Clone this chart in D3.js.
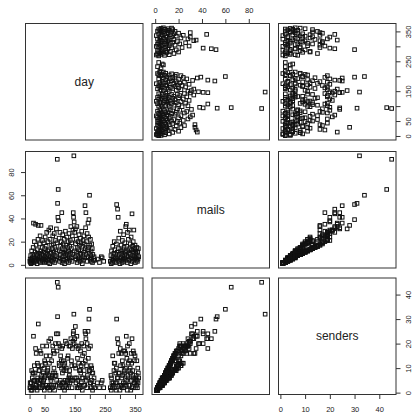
<!DOCTYPE html>
<html>
<head>
<meta charset="utf-8">
<script src="https://cdn.jsdelivr.net/npm/d3@7"></script>
<style>
  html, body { margin: 0; padding: 0; background: #fff; }
  svg { display: block; }
</style>
</head>
<body>
<svg width="413" height="413"></svg>
<script>
// ----- Data (one entry per day with mail) -----
const day = [
  1, 2, 3, 4, 5, 6, 7, 8, 9, 10,
  11, 12, 13, 14, 15, 16, 17, 18, 19, 20,
  21, 22, 23, 24, 25, 26, 27, 28, 29, 30,
  31, 32, 33, 34, 35, 36, 37, 38, 39, 40,
  41, 42, 43, 44, 45, 46, 47, 48, 49, 50,
  51, 52, 53, 54, 55, 56, 57, 58, 59, 60,
  61, 62, 63, 64, 65, 66, 67, 68, 69, 70,
  71, 72, 73, 74, 75, 76, 77, 78, 79, 80,
  81, 82, 83, 84, 85, 86, 87, 88, 89, 90,
  91, 92, 93, 94, 95, 96, 97, 98, 99, 100,
  101, 102, 103, 104, 105, 106, 107, 108, 109, 110,
  111, 112, 113, 114, 115, 116, 117, 118, 119, 120,
  121, 122, 123, 124, 125, 126, 127, 128, 129, 130,
  131, 132, 133, 134, 135, 136, 137, 138, 139, 140,
  141, 142, 143, 144, 145, 146, 147, 148, 149, 150,
  151, 152, 153, 154, 155, 156, 157, 158, 159, 160,
  161, 162, 163, 164, 165, 166, 167, 168, 169, 170,
  171, 172, 173, 174, 175, 176, 177, 178, 179, 180,
  181, 182, 183, 184, 185, 186, 187, 188, 189, 190,
  191, 192, 193, 194, 195, 196, 197, 198, 199, 200,
  201, 202, 203, 204, 205, 206, 207, 208, 209, 210,
  212, 214, 216, 225, 232, 238, 241, 246,
  268, 270, 271, 272, 273, 275, 276, 277, 278, 280,
  281, 282, 283, 285, 286, 287, 288, 289, 290, 291,
  292, 293, 294, 295, 296, 297, 298, 300, 301, 302,
  303, 304, 305, 306, 307, 308, 309, 310, 311, 312,
  313, 314, 315, 316, 317, 318, 319, 320, 321, 322,
  323, 324, 325, 326, 327, 328, 329, 330, 331, 332,
  333, 334, 335, 336, 337, 338, 339, 340, 341, 342,
  343, 344, 345, 346, 347, 348, 349, 350, 351, 352,
  353, 354, 355, 356, 357, 358, 359, 360, 361, 362
];

const mails = [
  3, 5, 2, 8, 1, 4, 12, 2, 6, 3,
  9, 15, 36, 7, 2, 20, 5, 11, 3, 35,
  6, 17, 4, 9, 1, 13, 8, 22, 34, 5,
  10, 3, 18, 7, 25, 2, 12, 34, 6, 9,
  4, 15, 21, 3, 8, 11, 5, 19, 2, 14,
  7, 24, 10, 3, 16, 6, 28, 9, 4, 12,
  20, 2, 8, 30, 5, 13, 1, 22, 7, 32,
  10, 4, 17, 6, 14, 3, 25, 9, 18, 5,
  11, 27, 2, 15, 8, 21, 4, 13, 31, 7,
  19, 91, 53, 41, 65, 38, 6, 23, 12, 3,
  28, 9, 16, 5, 20, 11, 45, 2, 14, 26,
  7, 18, 4, 10, 22, 1, 13, 8, 29, 5,
  17, 11, 3, 24, 9, 15, 6, 20, 2, 12,
  27, 8, 16, 4, 21, 10, 33, 6, 14, 19,
  3, 25, 9, 30, 45, 41, 94, 37, 12, 28,
  7, 31, 18, 5, 22, 11, 33, 2, 15, 8,
  20, 4, 13, 26, 6, 17, 10, 3, 23, 9,
  19, 5, 29, 12, 1, 16, 7, 21, 4, 25,
  11, 18, 6, 51, 14, 32, 45, 9, 20, 3,
  27, 13, 7, 36, 15, 24, 39, 10, 60, 17,
  5, 22, 8, 12, 3, 18, 6, 14, 2, 9,
  4, 7, 4, 5, 2, 7, 6, 3,
  3, 8, 1, 12, 5, 2, 16, 7, 4, 10,
  20, 3, 13, 6, 9, 2, 18, 52, 5, 11,
  48, 7, 41, 14, 23, 3, 9, 1, 29, 12,
  6, 17, 4, 10, 2, 21, 8, 13, 5, 26,
  3, 15, 9, 19, 6, 11, 33, 4, 35, 8,
  16, 2, 28, 12, 7, 22, 4, 10, 30, 14,
  5, 18, 9, 1, 24, 6, 13, 44, 3, 16,
  8, 20, 11, 30, 5, 14, 7, 17, 2, 10,
  6, 12, 4, 15, 8, 3, 11, 5, 14, 7
];

const senders = [
  2, 4, 2, 4, 1, 4, 9, 1, 6, 2,
  8, 8, 23, 5, 2, 11, 5, 8, 2, 18,
  3, 16, 3, 5, 1, 12, 6, 11, 28, 4,
  9, 2, 9, 5, 17, 2, 6, 16, 5, 7,
  2, 11, 19, 3, 4, 8, 5, 10, 1, 13,
  6, 12, 7, 3, 15, 3, 19, 8, 2, 9,
  10, 2, 7, 21, 3, 12, 1, 15, 6, 22,
  5, 3, 13, 6, 7, 2, 19, 8, 17, 3,
  10, 16, 1, 8, 7, 20, 3, 7, 24, 5,
  17, 45, 31, 24, 43, 20, 4, 12, 11, 2,
  19, 5, 15, 3, 13, 10, 18, 2, 8, 19,
  4, 13, 4, 9, 11, 1, 12, 5, 21, 3,
  9, 10, 2, 20, 5, 14, 4, 15, 2, 6,
  19, 7, 9, 4, 19, 6, 22, 5, 13, 11,
  2, 18, 5, 21, 24, 25, 32, 20, 11, 22,
  6, 27, 10, 4, 19, 6, 23, 2, 14, 5,
  18, 2, 12, 19, 3, 9, 9, 2, 17, 8,
  11, 4, 20, 6, 1, 15, 6, 12, 3, 19,
  9, 16, 3, 25, 13, 24, 22, 5, 11, 2,
  20, 7, 6, 25, 14, 18, 30, 9, 34, 9,
  4, 19, 4, 11, 2, 10, 5, 8, 1, 8,
  3, 6, 2, 4, 2, 4, 5, 2,
  2, 7, 1, 6, 4, 2, 15, 4, 3, 9,
  12, 2, 12, 4, 8, 1, 10, 30, 4, 6,
  22, 6, 20, 8, 16, 3, 8, 1, 18, 11,
  3, 16, 3, 6, 2, 13, 7, 11, 4, 17,
  2, 9, 8, 17, 4, 10, 16, 3, 23, 5,
  14, 1, 19, 7, 6, 12, 3, 9, 20, 13,
  3, 10, 8, 1, 16, 5, 12, 22, 2, 9,
  7, 17, 6, 16, 4, 13, 4, 15, 2, 6,
  5, 7, 3, 13, 5, 2, 10, 4, 8, 6
];

const varNames = ["day", "mails", "senders"];

// ----- Ticks -----
const dayTicks = [0, 50, 100, 150, 200, 250, 300, 350];
const dayTickLabels = [0, 50, 150, 250, 350];
const mailsTicks = [0, 20, 40, 60, 80];
const sendersTicks = [0, 10, 20, 30, 40];

// ----- Layout -----
const colX = [25.5, 152, 278.5],
      rowY = [23.5, 151.5, 278],
      panelW = 117.5,
      panelH = 116.5,
      sq = 3.6;

const columns = [day, mails, senders];
const tickSets = [dayTicks, mailsTicks, sendersTicks];
const tickShown = [dayTickLabels, mailsTicks, sendersTicks];

// R style: data range widened by 4% on each side
function padded(v) {
    const [lo, hi] = d3.extent(v), p = (hi - lo) * 0.04;
    return [lo - p, hi + p];
}

const svg = d3.select("svg");
const font = "'Liberation Sans', Arial, Helvetica, sans-serif";

const xScales = columns.map((v, j) =>
    d3.scaleLinear().domain(padded(v)).range([colX[j], colX[j] + panelW]));
const yScales = columns.map((v, i) =>
    d3.scaleLinear().domain(padded(v)).range([rowY[i] + panelH, rowY[i]]));

// ----- Panels -----
for (let i = 0; i < 3; i++) {
    for (let j = 0; j < 3; j++) {
        const g = svg.append("g");
        if (i === j) {
            g.append("text")
                .attr("x", colX[j] + panelW / 2)
                .attr("y", rowY[i] + panelH / 2)
                .attr("dy", "0.35em")
                .attr("text-anchor", "middle")
                .attr("font-family", font)
                .attr("font-size", 12)
                .attr("fill", "#222")
                .text(varNames[i]);
        } else {
            const xs = xScales[j], ys = yScales[i];
            const pts = d3.range(day.length).map(k => ({ x: columns[j][k], y: columns[i][k] }));
            g.selectAll("rect")
                .data(pts)
                .join("rect")
                .attr("x", d => xs(d.x) - sq / 2)
                .attr("y", d => ys(d.y) - sq / 2)
                .attr("width", sq)
                .attr("height", sq)
                .attr("fill", "none")
                .attr("stroke", "#111")
                .attr("stroke-width", 1);
        }
        g.append("rect")
            .attr("x", colX[j])
            .attr("y", rowY[i])
            .attr("width", panelW)
            .attr("height", panelH)
            .attr("fill", "none")
            .attr("stroke", "#333")
            .attr("stroke-width", 1);
    }
}

// ----- Axes -----
function styleAxis(sel) {
    sel.select(".domain").remove();
    sel.selectAll(".tick line").attr("stroke", "#333");
    sel.selectAll(".tick text")
        .attr("fill", "#222")
        .attr("font-family", font)
        .attr("font-size", 7.5);
}

function fmt(v) {
    return d => tickShown[v].includes(d) ? d : "";
}

// horizontal axes: bottom under columns 1 and 3, top over column 2
[0, 2].forEach(j => {
    svg.append("g")
        .attr("transform", `translate(0,${rowY[2] + panelH})`)
        .call(d3.axisBottom(xScales[j]).tickValues(tickSets[j]).tickFormat(fmt(j))
            .tickSize(4.5).tickPadding(8))
        .call(styleAxis);
});
svg.append("g")
    .attr("transform", `translate(0,${rowY[0]})`)
    .call(d3.axisTop(xScales[1]).tickValues(tickSets[1]).tickFormat(fmt(1))
        .tickSize(4.5).tickPadding(6.3))
    .call(styleAxis);

// vertical axes, labels turned to read upward
function rotateLabels(sel, off) {
    sel.selectAll(".tick text")
        .attr("x", null)
        .attr("dy", "0.35em")
        .attr("text-anchor", "middle")
        .attr("transform", `translate(${off},0) rotate(-90)`);
}

svg.append("g")
    .attr("transform", `translate(${colX[0]},0)`)
    .call(d3.axisLeft(yScales[1]).tickValues(tickSets[1]).tickFormat(fmt(1)).tickSize(4.5))
    .call(styleAxis)
    .call(rotateLabels, -14.5);

[0, 2].forEach(i => {
    svg.append("g")
        .attr("transform", `translate(${colX[2] + panelW},0)`)
        .call(d3.axisRight(yScales[i]).tickValues(tickSets[i]).tickFormat(fmt(i)).tickSize(4.5))
        .call(styleAxis)
        .call(rotateLabels, 12.5);
});
</script>
</body>
</html>
